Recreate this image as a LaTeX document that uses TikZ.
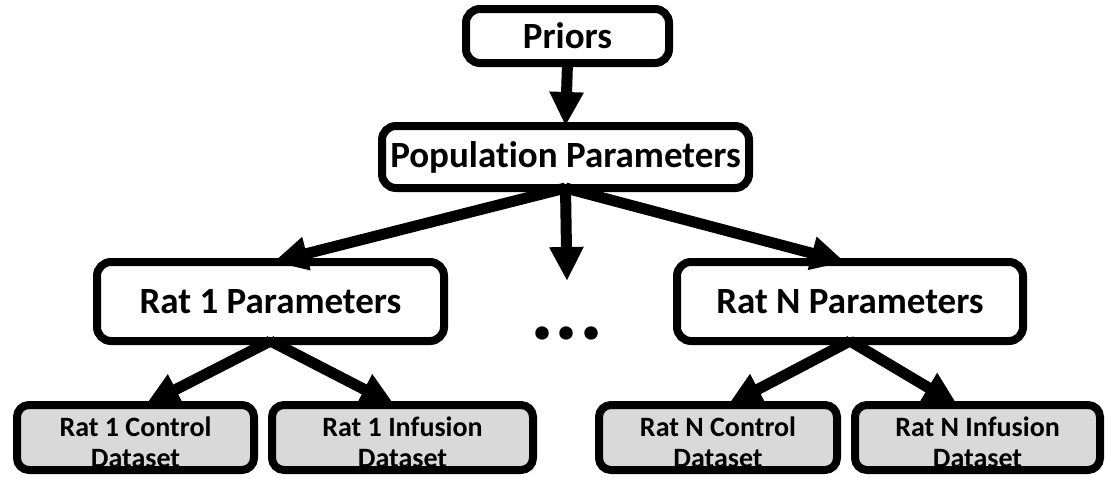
\documentclass[tikz,border=0pt]{standalone}
\usepackage{fontspec}
\setmainfont{Carlito}[Ligatures={NoCommon}]
\usetikzlibrary{arrows.meta}
\definecolor{boxgray}{HTML}{D9D9D9}
\begin{document}
\begin{tikzpicture}[x=1pt,y=-1pt,
  box/.style={draw=black, line width=8pt, rounded corners=14pt, fill=white,
    inner sep=0pt, outer sep=0pt, font=\fontsize{37}{40}\selectfont\bfseries},
  dbox/.style={line width=8pt, rounded corners=12pt, fill=boxgray,
    inner sep=0pt, outer sep=0pt, minimum height=65pt},
  dframe/.style={draw=black, line width=8pt, rounded corners=12pt,
    inner sep=0pt, outer sep=0pt, minimum height=65pt},
  dtext/.style={font=\fontsize{28}{31}\selectfont\bfseries, align=center, inner sep=0pt},
  arr/.style={line width=11pt, -{Triangle[width=32pt,length=34pt]}}]
\useasboundingbox (0,0) rectangle (1106,477);

% main boxes
\node[box, minimum width=203pt, minimum height=54pt] (pri) at (567.5,36) {Priors};
\node[box, minimum width=367pt, minimum height=62pt] (pop) at (565.5,157) {Population Parameters};
\node[box, minimum width=347pt, minimum height=79pt] (r1) at (270.5,301.5) {Rat 1 Parameters};
\node[box, minimum width=346pt, minimum height=79pt] (rn) at (850,301.5) {Rat N Parameters};

% dataset boxes (fill, text, then frame on top)
\node[dbox, minimum width=237pt] (c1) at (135.5,437.5) {};
\node[dbox, minimum width=261pt] (i1) at (402.5,437.5) {};
\node[dbox, minimum width=238pt] (cn) at (718,437.5) {};
\node[dbox, minimum width=245pt] (in) at (977.5,437.5) {};
\node[dtext] (c1t) at ([yshift=-4.5pt]c1.center) {Rat 1 Control\\Dataset};
\node[dtext] (i1t) at ([yshift=-4.5pt]i1.center) {Rat 1 Infusion\\Dataset};
\node[dtext] (cnt) at ([yshift=-4.5pt]cn.center) {Rat N Control\\Dataset};
\node[dtext] (int) at ([yshift=-4.5pt]in.center) {Rat N Infusion\\Dataset};
\node[dframe, minimum width=237pt] (c1f) at (c1) {};
\node[dframe, minimum width=261pt] (i1f) at (i1) {};
\node[dframe, minimum width=238pt] (cnf) at (cn) {};
\node[dframe, minimum width=245pt] (inf) at (in) {};

% ellipsis
\node[inner sep=0pt, anchor=base, font=\fontsize{90}{90}\selectfont\bfseries] (dots) at (567,339) {...};
\coordinate (mid) at (567,281);

% connectors
\draw[arr] (pri.south) -- (pop.north);
\draw[arr] (pop.south) -- ([xshift=3pt]r1.north);
\draw[arr] (pop.south) -- (mid);
\draw[arr] (pop.south) -- ([xshift=-5pt]rn.north);
\draw[arr] (r1.south) -- ([xshift=10pt]c1.north);
\draw[arr] (r1.south) -- ([xshift=-8pt]i1.north);
\draw[arr] (rn.south) -- ([xshift=10pt]cn.north);
\draw[arr] (rn.south) -- ([xshift=-20pt]in.north);
\end{tikzpicture}
\end{document}
